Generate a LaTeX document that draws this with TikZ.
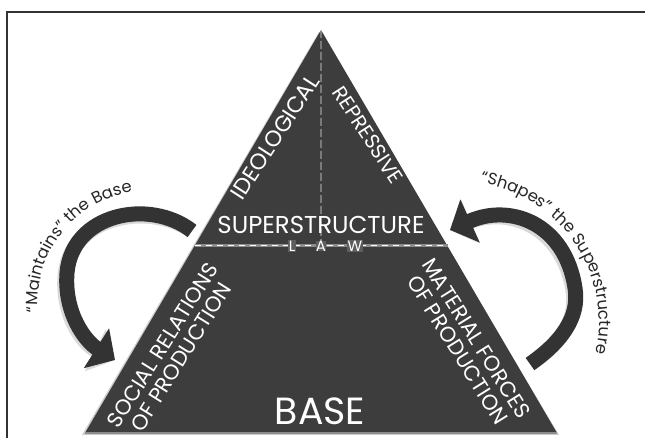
\documentclass[tikz,border=0pt]{standalone}
\usepackage{fontspec}
\setmainfont{Poppins}
\usetikzlibrary{positioning,calc,arrows.meta,decorations.text}
\definecolor{pyramid}{HTML}{3D3D3D}
\definecolor{arrowgray}{HTML}{333333}
\definecolor{band}{HTML}{8C8C8C}

\begin{document}
\begin{tikzpicture}[x=1bp, y=1bp,
		whitetext/.style={text=white, inner sep=0pt, align=center, font=\fontsize{21.5}{22}\selectfont},
		lawtext/.style={whitetext, font=\fontsize{15}{15}\selectfont, fill=pyramid!60!band, inner sep=0.3pt},
		bigarrow/.style={draw=arrowgray, line width=15bp, -{Triangle[width=46bp,length=22bp]}},
		arrowshadow/.style={bigarrow, draw=black!25, opacity=0.6, shift={(-2,-3)}},
		curvetext/.style={decorate, decoration={text along path, text align=center, text color=black!85}}]
		\useasboundingbox (0,0) rectangle (645,438);
		\draw[black!80, line width=1.5bp] (7,0) -- (7,426) -- (645,426);
		\coordinate (apex) at (321,408);
		\coordinate (bl) at (85,5);
		\coordinate (br) at (557,5);
		\coordinate (law-l) at ($(apex)!0.536!(bl)$);
		\coordinate (law-r) at ($(apex)!0.536!(br)$);
		\coordinate (law-m) at ($(law-l)!0.5!(law-r)$);
		\fill[black!20] ([shift={(-2,-2)}]apex) -- ([shift={(-3,-2)}]bl) -- ([shift={(2,-2)}]br) -- cycle;
		\fill[pyramid] (apex) -- (bl) -- (br) -- cycle;
		\draw[band, line width=1.5bp] (bl) -- (br);
		\draw[band, line width=3bp] (law-l) -- (law-r);
		\draw[white, line width=1bp, dash pattern=on 6bp off 5bp] (law-l) -- (law-r);
		\draw[white!85!gray, line width=0.8bp, dash pattern=on 8bp off 3bp] (apex) -- (law-m);
		\node[whitetext, font=\fontsize{24.5}{26}\selectfont] (superstructure) at (321,213) {SUPERSTRUCTURE};
		\node[lawtext] (law-a) at (law-m) {A};
		\node[lawtext] (law-w) at (355,192) {W};
		\node[lawtext] (law-lt) at (292,192) {L};
		\node[whitetext, rotate=57, font=\fontsize{22.5}{24}\selectfont] (ideological) at (275,301) {IDEOLOGICAL};
		\node[whitetext, rotate=-57, font=\fontsize{20.5}{22}\selectfont] (repressive) at (368,303) {REPRESSIVE};
		\node[whitetext, rotate=58] (social) at (172,87) {SOCIAL RELATIONS\\OF PRODUCTION};
		\node[whitetext, rotate=-58] (material) at (467,94) {MATERIAL FORCES\\OF PRODUCTION};
		\node[whitetext, font=\fontsize{38}{40}\selectfont, anchor=base] (base) at (320,13) {BASE};
		\coordinate (maint-tail) at (192,207);
		\coordinate (maint-tip) at (115,78);
		\coordinate (shape-tail) at (530,74);
		\coordinate (shape-tip) at (450,208);
		\draw[arrowshadow] (maint-tail) .. controls (150,240) and (72,225) .. (67,165) .. controls (64,125) and (85,97) .. (maint-tip);
		\draw[arrowshadow] (shape-tail) .. controls (560,95) and (580,120) .. (575,150) .. controls (565,215) and (510,235) .. (shape-tip);
		\draw[bigarrow] (maint-tail) .. controls (150,240) and (72,225) .. (67,165) .. controls (64,125) and (85,97) .. (maint-tip);
		\draw[bigarrow] (shape-tail) .. controls (560,95) and (580,120) .. (575,150) .. controls (565,215) and (510,235) .. (shape-tip);
		\coordinate (maint-c) at (151,135);
		\coordinate (shape-c) at (458,116);
		\path[curvetext, decoration={text={|\fontsize{16.5}{16}\selectfont|“Maintains” the Base}}] (maint-c) ++(194:113) arc[start angle=194, end angle=90, radius=113];
		\path[curvetext, decoration={text={|\fontsize{16.5}{16}\selectfont|“Shapes” the Superstructure}}] (shape-c) ++(84:141) arc[start angle=84, end angle=-16, radius=141];
	\end{tikzpicture}
\end{document}
